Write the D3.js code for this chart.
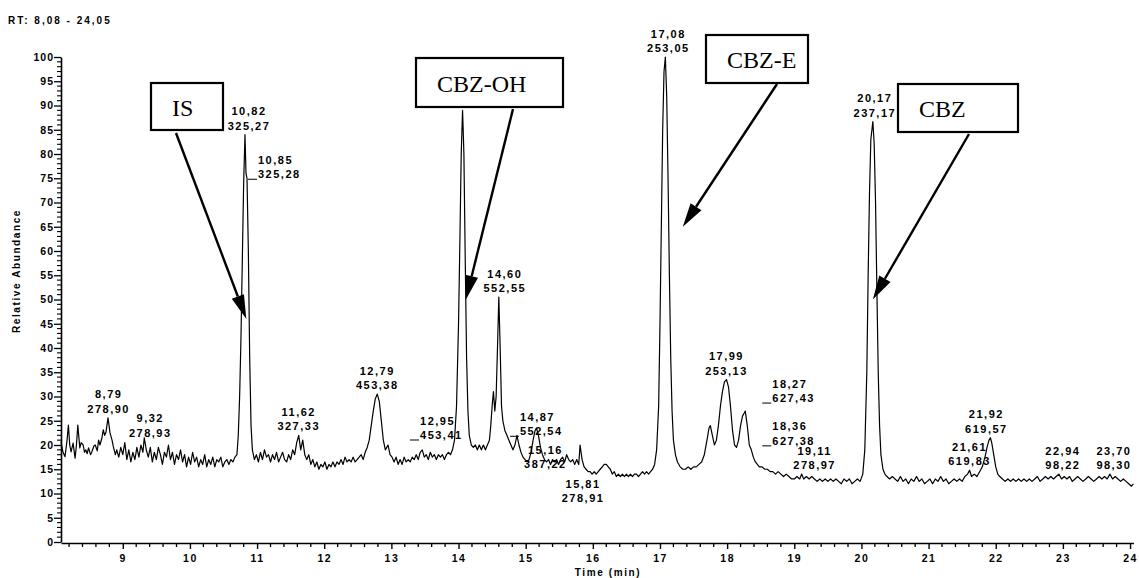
<!DOCTYPE html>
<html>
<head>
<meta charset="utf-8">
<script src="https://cdn.jsdelivr.net/npm/d3@7"></script>
<style>
  body { margin: 0; background: #fff; }
  svg { display: block; }
  .sans { font-family: "Liberation Sans", Arial, sans-serif; font-weight: bold; fill: #000; }
  .serif { font-family: "Liberation Serif", "Times New Roman", serif; fill: #000; }
</style>
</head>
<body>
<svg id="chart" width="1139" height="578"></svg>
<script>
// Retention window of the chromatogram (min)
const rtRange = [8.08, 24.05];
const abundanceRange = [0, 100];

// Chromatogram trace: [retention time (min), relative abundance (%)]
const trace = [
  [8.08,20.7],[8.11,18.5],[8.14,17.6],[8.17,21],[8.19,24.1],[8.21,20],[8.23,18.6],[8.26,20.4],
  [8.29,17.3],[8.31,20],[8.33,24.1],[8.36,19.4],[8.38,20.5],[8.41,20],[8.43,18.5],[8.45,19],
  [8.47,18.2],[8.49,19.4],[8.52,18],[8.54,18.6],[8.57,19.8],[8.59,20],[8.62,18.8],[8.64,21],
  [8.66,20],[8.69,21.5],[8.71,23.1],[8.73,22],[8.75,22.7],[8.78,25.6],[8.81,22.5],[8.84,21],
  [8.86,19.6],[8.89,18],[8.91,19],[8.94,17.5],[8.97,19.5],[9.00,18],[9.03,20.5],[9.06,17],
  [9.09,19],[9.12,16.5],[9.15,18.5],[9.18,17],[9.21,19.5],[9.24,17.5],[9.27,20],[9.30,18.5],
  [9.32,21.5],[9.35,19],[9.38,17.5],[9.41,19.5],[9.44,16.5],[9.47,18.5],[9.50,17],[9.53,19.5],
  [9.56,18],[9.59,16],[9.62,18.5],[9.65,17.5],[9.68,20],[9.71,17],[9.74,18.5],[9.77,16],
  [9.80,18],[9.83,17],[9.86,19],[9.89,16.5],[9.92,18],[9.95,15.5],[9.98,17.5],[10.01,16],
  [10.04,18.5],[10.07,16.5],[10.10,17.5],[10.13,15.5],[10.16,17],[10.19,16],[10.22,18],[10.25,15.5],
  [10.28,17],[10.31,16],[10.34,17.5],[10.37,15.5],[10.40,17],[10.43,16.5],[10.46,17.5],[10.49,15.5],
  [10.52,16.5],[10.55,17],[10.58,16],[10.61,17],[10.64,16.5],[10.67,17.5],[10.70,18],
  [10.72,22],[10.74,30],[10.76,42],[10.78,58],[10.80,74],[10.82,84],[10.835,76],[10.85,75],
  [10.87,60],[10.89,38],[10.91,24],[10.93,19],[10.96,17],[10.99,18],
  [11.02,16.5],[11.05,18.5],[11.08,17],[11.11,19],[11.14,17.5],[11.17,18],[11.20,16.5],[11.23,18],
  [11.26,17],[11.29,18.5],[11.32,16.5],[11.35,17.5],[11.38,18.5],[11.41,17],[11.44,16.5],[11.47,18],
  [11.50,17],[11.53,19],[11.56,18],[11.59,20.5],[11.62,22],[11.65,19],[11.68,21],[11.71,18],
  [11.74,17],[11.77,18],[11.80,16],[11.83,17],[11.86,15.5],[11.89,16.5],[11.92,15],[11.95,16],
  [11.98,15.5],[12.01,16.5],[12.04,15],[12.07,16],[12.10,15.5],[12.13,16.5],[12.16,15.5],[12.19,16.5],
  [12.22,16],[12.25,17],[12.28,16],[12.31,17.5],[12.34,16.5],[12.37,17],[12.40,16.5],[12.43,17.5],
  [12.46,16.5],[12.49,17],[12.52,17.5],[12.55,18],[12.58,17],[12.61,18.5],[12.64,19.5],[12.67,21],
  [12.70,24],[12.73,27],[12.76,29.5],[12.79,30.5],[12.82,29],[12.85,25],[12.88,21],[12.91,19],
  [12.95,20],[12.98,18],[13.01,17.5],[13.04,16.5],[13.07,17.5],[13.10,16],[13.13,17],[13.16,16],
  [13.19,17.5],[13.22,16.5],[13.25,17],[13.28,16.5],[13.31,17.5],[13.34,17],[13.37,18],[13.40,17],
  [13.43,18.5],[13.46,19],[13.49,17.5],[13.52,18],[13.55,17],[13.58,18.5],[13.61,17.5],[13.64,18],
  [13.67,17],[13.70,18],[13.73,17.5],[13.76,18],[13.79,17],[13.82,18],[13.85,18.5],[13.88,18],
  [13.91,19],[13.94,21],[13.97,28],[14.00,45],[14.02,62],[14.04,80],[14.06,89],[14.08,80],
  [14.10,58],[14.12,38],[14.14,27],[14.16,22],[14.19,20],[14.22,19.5],[14.25,20],[14.28,19],
  [14.31,20],[14.34,19],[14.37,20],[14.40,19],[14.43,20],[14.46,21],[14.48,24],[14.50,28],
  [14.52,31],[14.54,27],[14.56,30],[14.58,40],[14.60,50.5],[14.62,40],[14.64,28],[14.66,25],
  [14.69,23],[14.72,22],[14.75,21],[14.78,20],[14.81,19],[14.84,20],[14.87,22],[14.90,20],
  [14.93,18.5],[14.96,17.5],[14.99,17],[15.02,16.5],[15.05,17],[15.08,18.5],[15.11,21],[15.14,23],
  [15.16,23.5],[15.19,22],[15.22,19.5],[15.25,18],[15.28,17],[15.31,16.5],[15.34,17],[15.37,16],
  [15.40,17],[15.43,16.5],[15.46,17],[15.49,16],[15.52,17],[15.55,17.5],[15.58,16.5],[15.61,18],
  [15.64,17],[15.67,16.5],[15.70,17],[15.73,16],[15.76,17],[15.79,16],[15.81,20],[15.84,17],
  [15.87,15.5],[15.90,15],[15.93,14.5],[15.96,14.5],[15.99,14],[16.02,14.5],[16.05,14],[16.08,14.5],
  [16.11,15],[16.14,15.5],[16.17,16],[16.20,16],[16.23,15.5],[16.26,15],[16.29,14],[16.32,14.5],
  [16.35,13.5],[16.38,14],[16.41,13.5],[16.44,14],[16.47,13.5],[16.50,14],[16.53,13.5],[16.56,14],
  [16.59,13.5],[16.62,14],[16.65,14],[16.68,13.5],[16.71,14],[16.74,14.5],[16.77,14],[16.80,14.5],
  [16.83,14],[16.86,14.5],[16.89,15],[16.92,16],[16.95,19],[16.98,28],[17.00,45],[17.02,65],
  [17.04,85],[17.06,97],[17.08,100],[17.10,92],[17.12,75],[17.14,55],[17.16,38],[17.18,27],
  [17.20,21],[17.23,18],[17.26,16.5],[17.30,15.5],[17.34,15],[17.38,15],[17.42,15.5],[17.46,15],
  [17.50,15.5],[17.54,15.5],[17.58,16],[17.62,16.5],[17.66,18],[17.70,21],[17.73,23.5],[17.75,24],
  [17.78,22],[17.81,20],[17.84,21],[17.87,24],[17.90,28],[17.93,31],[17.96,33],[17.99,33.5],
  [18.02,32],[18.05,28],[18.08,23],[18.11,20],[18.14,19.5],[18.17,21],[18.20,24],[18.23,26],
  [18.25,26.5],[18.27,27],[18.30,24],[18.33,20],[18.36,19],[18.39,17.5],[18.42,16.5],[18.45,16],
  [18.48,15.5],[18.52,15.5],[18.56,15],[18.60,15],[18.64,14.5],[18.68,14.5],[18.72,14],[18.76,14.5],
  [18.80,14],[18.84,13.5],[18.88,14],[18.92,13.5],[18.96,13],[19.00,13],[19.04,13.5],[19.08,13],
  [19.11,14],[19.14,13],[19.18,13.5],[19.22,13],[19.26,13.5],[19.30,13],[19.34,12.5],[19.38,13],
  [19.42,12.5],[19.46,13],[19.50,12.5],[19.54,13],[19.58,12.5],[19.62,13],[19.66,12.5],[19.70,12],
  [19.74,13],[19.78,12.5],[19.82,13],[19.86,12],[19.90,12.5],[19.94,13],[19.98,12.5],[20.02,14],
  [20.05,19],[20.08,35],[20.10,55],[20.12,72],[20.14,83],[20.17,86.7],[20.19,82],[20.21,70],
  [20.23,52],[20.25,35],[20.27,24],[20.29,18],[20.32,15],[20.35,14],[20.38,13.5],[20.42,13],
  [20.46,13.5],[20.50,13],[20.54,12.5],[20.58,13.5],[20.62,12.5],[20.66,13],[20.70,12],[20.74,13],
  [20.78,12.5],[20.82,13.5],[20.86,12.5],[20.90,13],[20.94,12],[20.98,12.5],[21.02,13],[21.06,12],
  [21.10,13],[21.14,12.5],[21.18,13.5],[21.22,12.5],[21.26,13],[21.30,12],[21.34,12.5],[21.38,13],
  [21.42,12.5],[21.46,13],[21.50,12.5],[21.54,13.5],[21.58,14],[21.61,14.8],[21.64,13.5],[21.68,14],
  [21.72,13.5],[21.76,14.5],[21.80,15.5],[21.84,17.5],[21.87,19.5],[21.90,21],[21.92,21.5],[21.94,20.5],
  [21.97,18],[22.00,15.5],[22.03,14],[22.06,13.5],[22.10,13],[22.14,12.5],[22.18,13],[22.22,12.5],
  [22.26,13],[22.30,12.5],[22.34,13],[22.38,12.5],[22.42,13],[22.46,12.5],[22.50,13],[22.54,12.5],
  [22.58,13],[22.62,13.5],[22.66,12.5],[22.70,13],[22.74,13.5],[22.78,13],[22.82,13.5],[22.86,13],
  [22.90,13.5],[22.94,14],[22.98,13],[23.02,13.5],[23.06,13],[23.10,13.5],[23.14,12.5],[23.18,13],
  [23.22,13.5],[23.26,13],[23.30,12.5],[23.34,13],[23.38,13.5],[23.42,13],[23.46,12.5],[23.50,13],
  [23.54,13.5],[23.58,13],[23.62,13.5],[23.66,13],[23.70,14],[23.74,13],[23.78,13.5],[23.82,13],
  [23.86,12.5],[23.90,13],[23.94,12.5],[23.98,12],[24.02,11.5],[24.05,12]
];

// Annotated peaks: retention time label and base-peak m/z
const peakRT = ["8,79","9,32","10,82","10,85","11,62","12,79","12,95","14,60","14,87","15,16",
                "15,81","17,08","17,99","18,27","18,36","19,11","20,17","21,61","21,92","22,94","23,70"];
const peakMz = ["278,90","278,93","325,27","325,28","327,33","453,38","453,41","552,55","552,54","387,22",
                "278,91","253,05","253,13","627,43","627,38","278,97","237,17","619,83","619,57","98,22","98,30"];

// Axis ticks
const xMajorTicks = d3.range(9, 25, 1);
const xMinorTicks = d3.range(8.2, 24.01, 0.2);
const yMajorTicks = d3.range(0, 101, 5);
const yMinorTicks = d3.range(0, 101, 1);

// Compound call-outs and the peak each arrow points at [time, abundance]
const compoundNames = ["IS", "CBZ-OH", "CBZ-E", "CBZ"];
const compoundTargets = [[10.84, 46], [14.11, 50], [17.34, 65], [20.17, 50]];

// ---------- layout ----------
const svg = d3.select("#chart");
const x = d3.scaleLinear().domain(rtRange).range([61, 1133.4]);
const y = d3.scaleLinear().domain(abundanceRange).range([542, 57]);

// Label placement (px offsets from the peak apex); leader = dash in front of the m/z line
const labelLayout = [
  {dx:0,dy:0},{dx:6,dy:4},{dx:4,dy:0},{dx:11,dy:0,leader:true},{dx:0,dy:0},
  {dx:0,dy:0},{dx:32,dy:-6,leader:true},{dx:6,dy:0},{dx:3,dy:0,leader:true},{dx:9,dy:45},
  {dx:3,dy:62},{dx:3,dy:0},{dx:0,dy:0},{dx:27,dy:-9,leader:true},{dx:21,dy:-5,leader:true},
  {dx:13,dy:0},{dx:2,dy:0},{dx:0,dy:0},{dx:-4,dy:0},{dx:4,dy:0},{dx:4,dy:0}
];
const boxLayout = [
  {x0:151, y0:83, x1:223, y1:130},
  {x0:416, y0:58, x1:563, y1:107},
  {x0:706, y0:35, x1:808, y1:83},
  {x0:898, y0:84, x1:1018, y1:132}
];
const arrowStart = [[176,133],[513,109],[777,84],[969,134]];

// ---------- title ----------
svg.append("text").attr("class","sans").attr("x",8).attr("y",24)
  .style("font-size","10px").style("letter-spacing","2px")
  .text("RT: 8,08 - 24,05");

// ---------- axes ----------
const xAxis = svg.append("g").attr("transform","translate(0,543)")
  .call(d3.axisBottom(x).tickValues(xMajorTicks).tickSize(6).tickSizeOuter(0).tickFormat(d3.format("d")));
xAxis.select(".domain").attr("stroke","#000").attr("stroke-width",1.6);
xAxis.selectAll(".tick line").attr("stroke-width",1.4);
xAxis.selectAll(".tick text").attr("class","sans").attr("y",12)
  .style("font-size","10.5px").style("letter-spacing","1.5px");
xAxis.selectAll(".minor").data(xMinorTicks.filter(t => Math.abs(t - Math.round(t)) > 0.01))
  .enter().append("line").attr("class","minor")
  .attr("x1",d=>x(d)).attr("x2",d=>x(d)).attr("y1",0).attr("y2",4)
  .attr("stroke","#000").attr("stroke-width",1.3);

const yAxis = svg.append("g").attr("transform","translate(61,0)")
  .call(d3.axisLeft(y).tickValues(yMajorTicks).tickSize(7).tickSizeOuter(0).tickFormat(d3.format("d")));
yAxis.select(".domain").attr("stroke","#000").attr("stroke-width",1.6);
yAxis.selectAll(".tick line").attr("stroke-width",1.3);
yAxis.selectAll(".tick text").attr("class","sans").attr("x",-7)
  .style("font-size","10.5px").style("letter-spacing","1px");
yAxis.selectAll(".minor").data(yMinorTicks.filter(v => v % 5 !== 0))
  .enter().append("line").attr("class","minor")
  .attr("x1",-4).attr("x2",0).attr("y1",d=>y(d)).attr("y2",d=>y(d))
  .attr("stroke","#000").attr("stroke-width",1.1);

svg.append("text").attr("class","sans")
  .attr("transform","translate(20,271) rotate(-90)").attr("text-anchor","middle")
  .style("font-size","10px").style("letter-spacing","1.6px")
  .text("Relative Abundance");
svg.append("text").attr("class","sans").attr("x",608).attr("y",576).attr("text-anchor","middle")
  .style("font-size","10px").style("letter-spacing","1.6px")
  .text("Time (min)");

// ---------- trace ----------
const line = d3.line().x(d => x(d[0])).y(d => y(d[1]));
svg.append("path").datum(trace).attr("d", line)
  .attr("fill","none").attr("stroke","#000").attr("stroke-width",1.2).attr("stroke-linejoin","round");

// ---------- peak labels ----------
const parseNum = s => +s.replace(",", ".");
function apexValue(t) {
  let best = trace[0];
  for (const p of trace) if (Math.abs(p[0]-t) < Math.abs(best[0]-t)) best = p;
  return best[1];
}
const labels = svg.append("g").attr("class","peak-labels");
peakRT.forEach((rt, i) => {
  const t = parseNum(rt);
  const lay = labelLayout[i];
  const ax = x(t), ay = y(apexValue(t));
  const g = labels.append("g");
  if (lay.leader) {
    const lx = ax + lay.dx, ly = ay + lay.dy;
    g.append("line").attr("x1",lx-10).attr("x2",lx-1).attr("y1",ly+1).attr("y2",ly+1)
      .attr("stroke","#000").attr("stroke-width",1);
    g.append("text").attr("class","sans").attr("x",lx).attr("y",ly-14.5)
      .style("font-size","11px").style("letter-spacing","1.5px").text(rt);
    g.append("text").attr("class","sans").attr("x",lx).attr("y",ly)
      .style("font-size","11px").style("letter-spacing","1.5px").text(peakMz[i]);
  } else {
    const cx = ax + lay.dx, by = ay - 5 + lay.dy;
    g.append("text").attr("class","sans").attr("x",cx).attr("y",by-14.5).attr("text-anchor","middle")
      .style("font-size","11px").style("letter-spacing","1.5px").text(rt);
    g.append("text").attr("class","sans").attr("x",cx).attr("y",by).attr("text-anchor","middle")
      .style("font-size","11px").style("letter-spacing","1.5px").text(peakMz[i]);
  }
});

// ---------- compound call-outs ----------
const callouts = svg.append("g").attr("class","callouts");
compoundNames.forEach((name, i) => {
  const b = boxLayout[i];
  const [sx, sy] = arrowStart[i];
  const tx = x(compoundTargets[i][0]), ty = y(compoundTargets[i][1]);
  const ang = Math.atan2(ty - sy, tx - sx);
  const headLen = 24, headHalf = 6.5;
  const bx = tx - headLen * Math.cos(ang), by = ty - headLen * Math.sin(ang);
  callouts.append("line").attr("x1",sx).attr("y1",sy).attr("x2",bx).attr("y2",by)
    .attr("stroke","#000").attr("stroke-width",2.4);
  const px = -Math.sin(ang) * headHalf, py = Math.cos(ang) * headHalf;
  callouts.append("path")
    .attr("d", `M${tx},${ty}L${bx+px},${by+py}L${bx-px},${by-py}Z`).attr("fill","#000");
  callouts.append("rect").attr("x",b.x0).attr("y",b.y0)
    .attr("width",b.x1-b.x0).attr("height",b.y1-b.y0)
    .attr("fill","#fff").attr("stroke","#000").attr("stroke-width",2.2);
  callouts.append("text").attr("class","serif").attr("x",b.x0+21).attr("y",(b.y0+b.y1)/2+9)
    .style("font-size","24px").text(name);
});
</script>
</body>
</html>
